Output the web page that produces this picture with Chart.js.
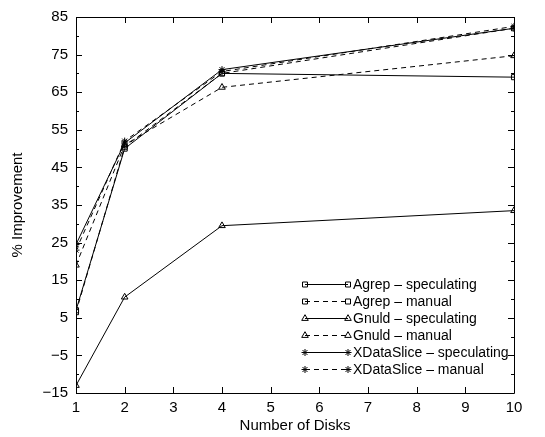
<!DOCTYPE html>
<html>
<head>
<meta charset="utf-8">
<script src="https://cdn.jsdelivr.net/npm/chart.js@4.4.0/dist/chart.umd.min.js"></script>
<style>
  html, body { margin: 0; padding: 0; background: #fff; }
  #wrap { width: 545px; height: 437px; }
</style>
</head>
<body>
<div id="wrap"><canvas id="chart" width="545" height="437"></canvas></div>
<script>
// valores
var disks = [1, 2, 4, 10];
var agrepSpeculating = [7, 50, 70, 69];
var agrepManual = [6.5, 50.5, 70, 82];
var gnuldSpeculating = [-13, 10.5, 29.5, 33.5];
var gnuldManual = [19, 51, 66.3, 74.7];
var xdataSpeculating = [24.5, 51.5, 71, 82];
var xdataManual = [23, 52, 70.5, 82.5];

var seriesNames = [
    "Agrep \u2013 speculating",
    "Agrep \u2013 manual",
    "Gnuld \u2013 speculating",
    "Gnuld \u2013 manual",
    "XDataSlice \u2013 speculating",
    "XDataSlice \u2013 manual"
];
var seriesValues = [agrepSpeculating, agrepManual, gnuldSpeculating, gnuldManual, xdataSpeculating, xdataManual];
var seriesMarkers = ["rect", "rect", "triangle", "triangle", "star", "star"];
var seriesDashed = [false, true, false, true, false, true];

var FONT = "'Liberation Sans', Arial, Helvetica, sans-serif";
var FSIZE = 15;
var DASH = [5, 4];

function markerRadius(style) {
    if (style === "rect") return 3.6;
    if (style === "triangle") return 3.8;
    return 3.5;
}

var datasets = [];
for (var i = 0; i < seriesNames.length; i++) {
    var pts = [];
    for (var j = 0; j < disks.length; j++) {
        pts.push({ x: disks[j], y: seriesValues[i][j] });
    }
    datasets.push({
        label: seriesNames[i],
        data: pts,
        borderColor: "#000",
        borderWidth: 1,
        borderDash: seriesDashed[i] ? DASH : [],
        backgroundColor: "rgba(0,0,0,0)",
        pointStyle: seriesMarkers[i],
        pointRadius: markerRadius(seriesMarkers[i]),
        pointBorderColor: "#000",
        pointBackgroundColor: "rgba(0,0,0,0)",
        pointBorderWidth: 1,
        fill: false,
        tension: 0
    });
}

// desenha um marcador simples
function drawMarker(ctx, style, x, y) {
    ctx.save();
    ctx.setLineDash([]);
    ctx.strokeStyle = "#000";
    ctx.lineWidth = 1;
    ctx.beginPath();
    if (style === "rect") {
        var s = 2.5;
        ctx.rect(x - s, y - s, 2 * s, 2 * s);
    } else if (style === "triangle") {
        var r = 3.8;
        ctx.moveTo(x, y - r);
        ctx.lineTo(x + r * 0.866, y + r * 0.5);
        ctx.lineTo(x - r * 0.866, y + r * 0.5);
        ctx.closePath();
    } else {
        var r2 = 3.5;
        for (var k = 0; k < 4; k++) {
            var a = k * Math.PI / 4;
            ctx.moveTo(x - r2 * Math.cos(a), y - r2 * Math.sin(a));
            ctx.lineTo(x + r2 * Math.cos(a), y + r2 * Math.sin(a));
        }
    }
    ctx.stroke();
    ctx.restore();
}

// moldura e ticks para dentro (estilo gnuplot)
var framePlugin = {
    id: "frame",
    afterDraw: function (chart) {
        var ctx = chart.ctx;
        var a = chart.chartArea;
        var xs = chart.scales.x;
        var ys = chart.scales.y;
        ctx.save();
        ctx.strokeStyle = "#000";
        ctx.lineWidth = 1;
        ctx.setLineDash([]);
        ctx.beginPath();
        ctx.rect(Math.round(a.left) + 0.5, Math.round(a.top) + 0.5,
            Math.round(a.right - a.left), Math.round(a.bottom - a.top));
        for (var v = 1; v <= 10; v++) {
            var px = Math.round(xs.getPixelForValue(v)) + 0.5;
            ctx.moveTo(px, a.bottom);
            ctx.lineTo(px, a.bottom - 6);
            ctx.moveTo(px, a.top);
            ctx.lineTo(px, a.top + 6);
        }
        for (var w = -15; w <= 85; w += 5) {
            var py = Math.round(ys.getPixelForValue(w)) + 0.5;
            var len = ((w + 15) % 10 === 0) ? 6 : 3;
            ctx.moveTo(a.left, py);
            ctx.lineTo(a.left + len, py);
            ctx.moveTo(a.right, py);
            ctx.lineTo(a.right - len, py);
        }
        ctx.stroke();
        ctx.restore();
    }
};

// legenda com linha e marcador nas duas pontas
var legendPlugin = {
    id: "gpLegend",
    afterDraw: function (chart) {
        var ctx = chart.ctx;
        var x0 = 305, x1 = 348, tx = 353, y0 = 284, dy = 17;
        ctx.save();
        ctx.font = "14px " + FONT;
        ctx.fillStyle = "#000";
        ctx.textBaseline = "middle";
        for (var i = 0; i < seriesNames.length; i++) {
            var y = y0 + i * dy + 0.5;
            ctx.strokeStyle = "#000";
            ctx.lineWidth = 1;
            ctx.setLineDash(seriesDashed[i] ? DASH : []);
            ctx.beginPath();
            ctx.moveTo(x0, y);
            ctx.lineTo(x1, y);
            ctx.stroke();
            drawMarker(ctx, seriesMarkers[i], x0, y);
            drawMarker(ctx, seriesMarkers[i], x1, y);
            ctx.fillText(seriesNames[i], tx, y + 1);
        }
        ctx.restore();
    }
};

var ctx = document.getElementById("chart").getContext("2d");
var chart = new Chart(ctx, {
    type: "line",
    data: { datasets: datasets },
    options: {
        responsive: false,
        animation: false,
        layout: { padding: { left: 0, right: 31, top: 13, bottom: 0 } },
        plugins: {
            legend: { display: false },
            tooltip: { enabled: false }
        },
        scales: {
            x: {
                type: "linear",
                min: 1,
                max: 10,
                afterFit: function (s) { s.height = 44; },
                grid: { display: false, drawTicks: false },
                border: { display: false },
                ticks: {
                    stepSize: 1,
                    padding: 6,
                    color: "#000",
                    font: { family: FONT, size: FSIZE },
                    maxRotation: 0
                },
                title: {
                    display: true,
                    text: "Number of Disks",
                    color: "#000",
                    font: { family: FONT, size: FSIZE },
                    padding: { top: 0, bottom: 2 }
                }
            },
            y: {
                min: -15,
                max: 85,
                afterFit: function (s) { s.width = 76; },
                grid: { display: false, drawTicks: false },
                border: { display: false },
                ticks: {
                    stepSize: 5,
                    padding: 8,
                    color: "#000",
                    font: { family: FONT, size: FSIZE },
                    callback: function (v) {
                        if ((v + 15) % 10 !== 0) return "";
                        return v < 0 ? "\u2212" + Math.abs(v) : String(v);
                    }
                },
                title: {
                    display: true,
                    text: "% Improvement",
                    color: "#000",
                    font: { family: FONT, size: FSIZE },
                    padding: { top: 9, bottom: 0 }
                }
            }
        }
    },
    plugins: [framePlugin, legendPlugin]
});
</script>
</body>
</html>
